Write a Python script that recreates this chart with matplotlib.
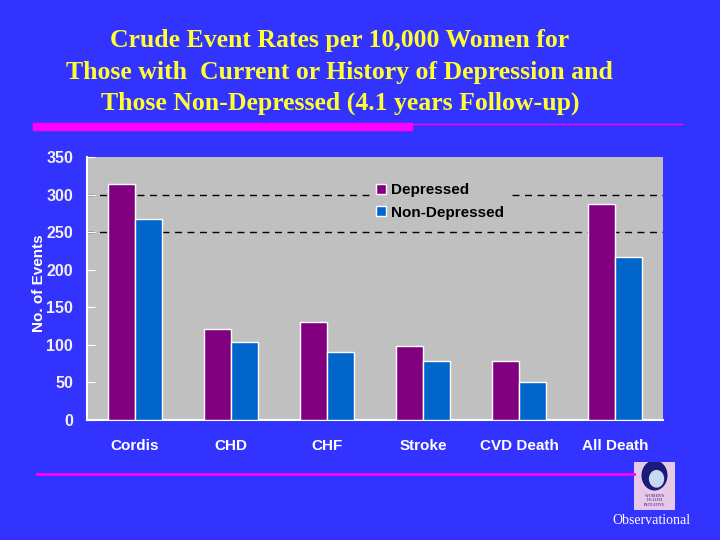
import matplotlib
matplotlib.use("Agg")
import matplotlib.pyplot as plt
import numpy as np
from matplotlib.patches import Patch, Rectangle

# values
categories = ["Cordis", "CHD", "CHF", "Stroke", "CVD Death", "All Death"]
depressed = [314, 121, 131, 98, 78, 288]
non_depressed = [268, 104, 91, 78, 51, 217]
yticks = [0, 50, 100, 150, 200, 250, 300, 350]
title_lines = [
    "Crude Event Rates per 10,000 Women for",
    "Those with  Current or History of Depression and",
    "Those Non-Depressed (4.1 years Follow-up)",
]

BG = "#3333FF"
GRAY = "#C0C0C0"
PURPLE = "#800080"
BLUE = "#0066CC"
MAGENTA = "#FF00FF"
YELLOW = "#FFFF33"

plt.rcParams["font.family"] = ["Liberation Sans", "DejaVu Sans"]

fig = plt.figure(figsize=(7.2, 5.4), dpi=100, facecolor=BG)

# title block
for i, line in enumerate(title_lines):
    fig.text(0.472, 1 - (41 + 31 * i) / 540, line, ha="center", va="center",
             color=YELLOW, fontsize=18.5, fontweight="bold", family="Liberation Serif")

# magenta rules
fig.patches.append(Rectangle((33 / 720, 1 - 130 / 540), (412 - 33) / 720, 7 / 540,
                             transform=fig.transFigure, color=MAGENTA))
fig.lines.append(plt.Line2D([412 / 720, 682 / 720], [1 - 123.5 / 540] * 2,
                            transform=fig.transFigure, color=MAGENTA, lw=1))
fig.lines.append(plt.Line2D([37 / 720, 634 / 720], [1 - 474 / 540] * 2,
                            transform=fig.transFigure, color=MAGENTA, lw=2))

ax = fig.add_axes([87 / 720, 120 / 540, 576 / 720, 263 / 540])
ax.set_facecolor(GRAY)

x = np.arange(len(categories))
w = 0.28
ax.bar(x - w / 2, depressed, w, color=PURPLE, edgecolor="white", lw=1, zorder=3)
ax.bar(x + w / 2, non_depressed, w, color=BLUE, edgecolor="white", lw=1, zorder=3)

for y in [250, 300]:
    ax.axhline(y, color="black", ls=(0, (5, 4)), lw=1, zorder=1)

ax.set_xlim(-0.5, len(categories) - 0.5)
ax.set_ylim(0, 350)
ax.set_yticks(yticks)
ax.set_xticks(x)
ax.set_xticklabels(categories)
ax.tick_params(axis="y", direction="in", length=6, color="white", labelcolor="#F0F0F0",
               labelsize=11.5, pad=10)
ax.tick_params(axis="x", length=0, labelcolor="white", labelsize=11, pad=14)
for lab in ax.get_xticklabels() + ax.get_yticklabels():
    lab.set_fontweight("bold")

for side in ["top", "right"]:
    ax.spines[side].set_visible(False)
for side in ["left", "bottom"]:
    ax.spines[side].set_color("white")
    ax.spines[side].set_linewidth(1.5)

ax.set_ylabel("No. of Events", color="white", fontsize=11, fontweight="bold")
ax.yaxis.set_label_coords(-0.072, 0.52)

handles = [Patch(facecolor=PURPLE, edgecolor="white"), Patch(facecolor=BLUE, edgecolor="white")]
leg = ax.legend(handles, ["Depressed", "Non-Depressed"], loc="upper left",
                bbox_to_anchor=(0.48, 0.95), frameon=True, facecolor=GRAY, edgecolor=GRAY,
                framealpha=1, fontsize=11, handlelength=0.6, handleheight=0.6,
                handletextpad=0.35, labelspacing=0.55, borderpad=0.35)
for t in leg.get_texts():
    t.set_fontweight("bold")
leg.set_zorder(5)

# small logo stand-in
logo = fig.add_axes([634 / 720, 30 / 540, 41 / 720, 48 / 540])
logo.set_facecolor("#E8C8E8")
logo.set_xticks([])
logo.set_yticks([])
for s in logo.spines.values():
    s.set_visible(False)
logo.add_patch(plt.Circle((0.5, 0.72), 0.3, color="#1A1A7A"))
logo.add_patch(plt.Circle((0.55, 0.65), 0.17, color="#C8D8F0"))
logo.text(0.5, 0.2, "WOMEN'S\nHEALTH\nINITIATIVE", ha="center", va="center",
          fontsize=3, color="#1A1A7A", family="Liberation Serif")
logo.set_xlim(0, 1)
logo.set_ylim(0, 1)

fig.text(651 / 720, 1 - 521 / 540, "Observational", ha="center", va="center",
         color="white", fontsize=10, family="Liberation Serif")

fig.savefig("out.png", dpi=100, facecolor=BG)
